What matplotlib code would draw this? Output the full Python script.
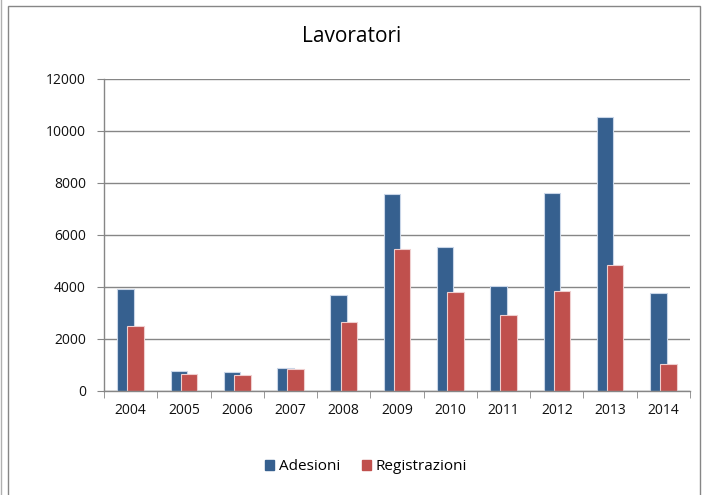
import numpy as np
import matplotlib.pyplot as plt
from matplotlib.lines import Line2D
from matplotlib.patches import Rectangle

# data
anni = ['2004', '2005', '2006', '2007', '2008', '2009', '2010', '2011', '2012', '2013', '2014']
adesioni = [3920, 780, 730, 900, 3700, 7580, 5530, 4050, 7600, 10530, 3780]
registrazioni = [2500, 640, 620, 840, 2650, 5470, 3810, 2910, 3860, 4830, 1040]

blu = '#36608f'
rosso = '#c0504d'
grigio = '#868686'

plt.rcParams['font.family'] = ['Open Sans', 'DejaVu Sans']

fig = plt.figure(figsize=(7.17, 4.95), dpi=100)
ax = fig.add_axes([104 / 717, 104 / 495, 586 / 717, 312 / 495])

x = np.arange(len(anni))
w = 0.31
off = 0.095
ax.bar(x - off, adesioni, w, color=blu, edgecolor='#c9d6e8', linewidth=0.8,
       label='Adesioni', zorder=3)
ax.bar(x + off, registrazioni, w, color=rosso, edgecolor='#efcfcf', linewidth=0.8,
       label='Registrazioni', zorder=4)

ax.set_xlim(-0.5, len(anni) - 0.5)
ax.set_ylim(0, 12000)
ax.set_yticks(range(0, 12001, 2000))
ax.set_xticks(x)
ax.set_xticklabels(anni)
ax.set_xticks(np.arange(-0.5, len(anni), 1), minor=True)
ax.tick_params(axis='x', which='major', length=0, pad=9, labelsize=10,
               labelcolor='#111111')
ax.tick_params(axis='x', which='minor', length=5, color=grigio, direction='out')
ax.tick_params(axis='y', length=5, color=grigio, labelsize=10, pad=8,
               labelcolor='#111111')

ax.yaxis.grid(True, color=grigio, linewidth=1)
ax.set_axisbelow(True)
for s in ['top', 'right']:
    ax.spines[s].set_visible(False)
for s in ['left', 'bottom']:
    ax.spines[s].set_color(grigio)
    ax.spines[s].set_linewidth(1)
ax.spines['bottom'].set_zorder(5)

fig.text(352 / 717, 1 - 36 / 495, 'Lavoratori', ha='center', va='center', fontsize=15)

handles = [Rectangle((0, 0), 1, 1, color=blu), Rectangle((0, 0), 1, 1, color=rosso)]
fig.legend(handles, ['Adesioni', 'Registrazioni'], loc='center',
           bbox_to_anchor=(366 / 717, 1 - 467 / 495), ncol=2, frameon=False,
           fontsize=11, handlelength=0.6, handleheight=0.6, handletextpad=0.3,
           columnspacing=1.4)

# outer chart frame
fig.add_artist(Rectangle((8 / 717, -0.02), 692 / 717, 1 - 6 / 495 + 0.02,
                         transform=fig.transFigure, fill=False, edgecolor=grigio,
                         linewidth=1))
fig.add_artist(Line2D([1.5 / 717, 1.5 / 717], [0, 1], transform=fig.transFigure,
                      color='#b0b0b0', linewidth=1))

fig.savefig('out.png', dpi=100)
